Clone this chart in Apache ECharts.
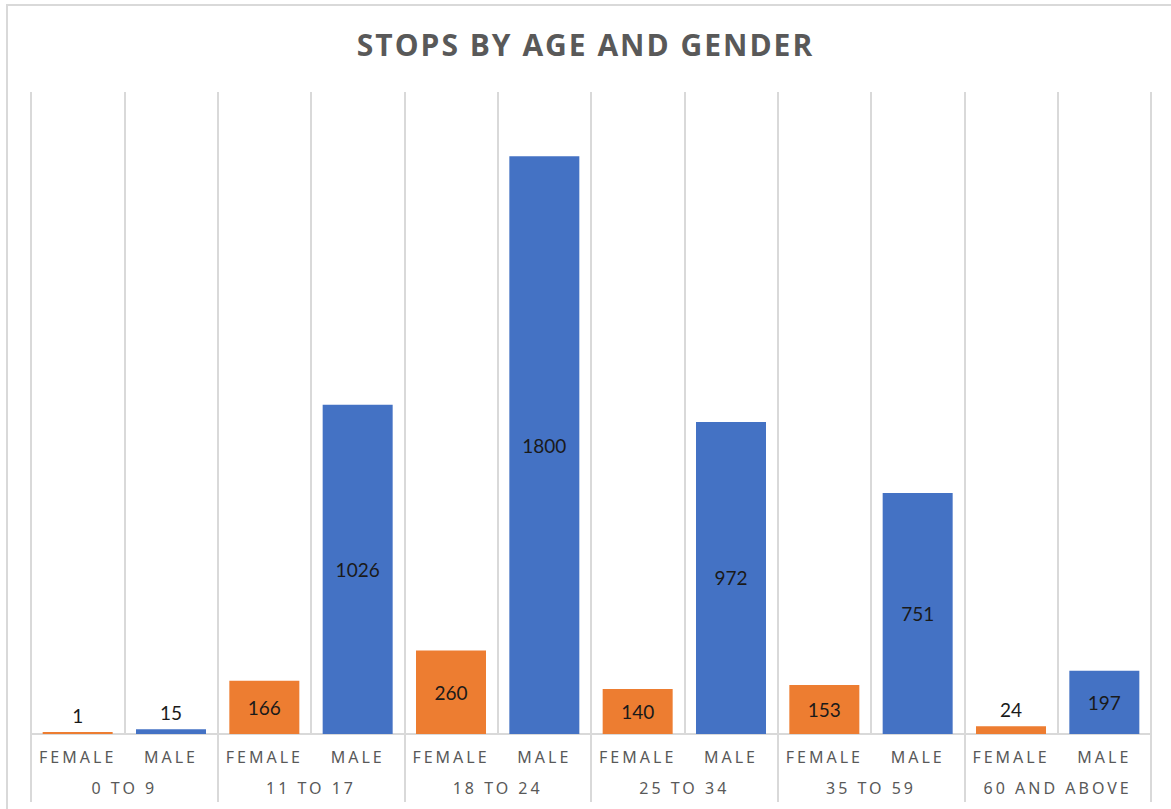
<!DOCTYPE html>
<html>
<head>
<meta charset="utf-8">
<title>Stops by age and gender</title>
<script src="https://cdn.jsdelivr.net/npm/echarts@6/dist/echarts.min.js"></script>
<style>
  html, body { margin: 0; padding: 0; background: #fff; }
  #chart { width: 1171px; height: 809px; }
  /* spaced-out caps like the original workbook */
  #chart text[style*="Noto Sans"], #chart text[font-family*="Noto Sans"] { letter-spacing: 3px; }
  #chart text[style*="Open Sans"], #chart text[font-family*="Open Sans"] { letter-spacing: 2px; }
</style>
</head>
<body>
<div id="chart"></div>
<script>
// data
var ageGroups = ['0 TO 9', '11 TO 17', '18 TO 24', '25 TO 34', '35 TO 59', '60 AND ABOVE']
var genders = ['FEMALE', 'MALE']
var femaleStops = [1, 166, 260, 140, 153, 24]
var maleStops = [15, 1026, 1800, 972, 751, 197]

var gridColor = '#d9d9d9'
var textColor = '#595959'

// one slot per (age group, gender)
var slots = []
var femaleData = []
var maleData = []

function item(v) {
  // tiny bars get their number above the bar
  return {
    value: v,
    label: { position: v < 50 ? 'top' : 'inside', distance: v < 50 ? 7 : 5 }
  }
}

ageGroups.forEach(function (g, i) {
  slots.push(genders[0], genders[1])
  femaleData.push(item(femaleStops[i]), '-')
  maleData.push('-', item(maleStops[i]))
})

var chart = echarts.init(document.getElementById('chart'), null, { renderer: 'svg' })

var barLabel = {
  show: true,
  color: '#1a1a1a',
  fontFamily: 'Lato',
  fontSize: 19
}

var option = {
  animation: false,
  backgroundColor: '#fff',
  title: {
    text: 'STOPS BY AGE AND GENDER',
    left: 'center',
    top: 24,
    textStyle: {
      color: textColor,
      fontFamily: 'Open Sans',
      fontWeight: 'bold',
      fontSize: 30
    }
  },
  graphic: [
    {
      type: 'rect',
      silent: true,
      shape: { x: 7, y: 5, width: 1200, height: 900 },
      style: { fill: 'none', stroke: gridColor, lineWidth: 2 }
    }
  ],
  grid: {
    left: 31,
    right: 20,
    top: 92,
    bottom: 75
  },
  xAxis: [
    {
      type: 'category',
      data: slots,
      boundaryGap: true,
      axisLine: { show: true, lineStyle: { color: gridColor, width: 2 } },
      axisTick: { show: false },
      splitLine: { show: true, lineStyle: { color: gridColor, width: 2 } },
      axisLabel: {
        interval: 0,
        margin: 15,
        color: textColor,
        fontFamily: 'Noto Sans',
        fontSize: 16
      }
    },
    {
      type: 'category',
      data: ageGroups,
      position: 'bottom',
      boundaryGap: true,
      axisLine: { show: false },
      axisTick: { show: true, length: 68, lineStyle: { color: gridColor, width: 2 } },
      splitLine: { show: false },
      axisLabel: {
        interval: 0,
        margin: 46,
        color: textColor,
        fontFamily: 'Noto Sans',
        fontSize: 16
      }
    }
  ],
  yAxis: {
    type: 'value',
    min: 0,
    max: 2000,
    show: false,
    splitLine: { show: false }
  },
  series: [
    {
      name: 'Female',
      type: 'bar',
      xAxisIndex: 0,
      barWidth: '75%',
      barGap: '-100%',
      barMinHeight: 2,
      itemStyle: { color: '#ed7d31' },
      label: barLabel,
      data: femaleData
    },
    {
      name: 'Male',
      type: 'bar',
      xAxisIndex: 0,
      barWidth: '75%',
      barGap: '-100%',
      barMinHeight: 2,
      itemStyle: { color: '#4472c4' },
      label: barLabel,
      data: maleData
    }
  ]
}

chart.setOption(option)
</script>
</body>
</html>
